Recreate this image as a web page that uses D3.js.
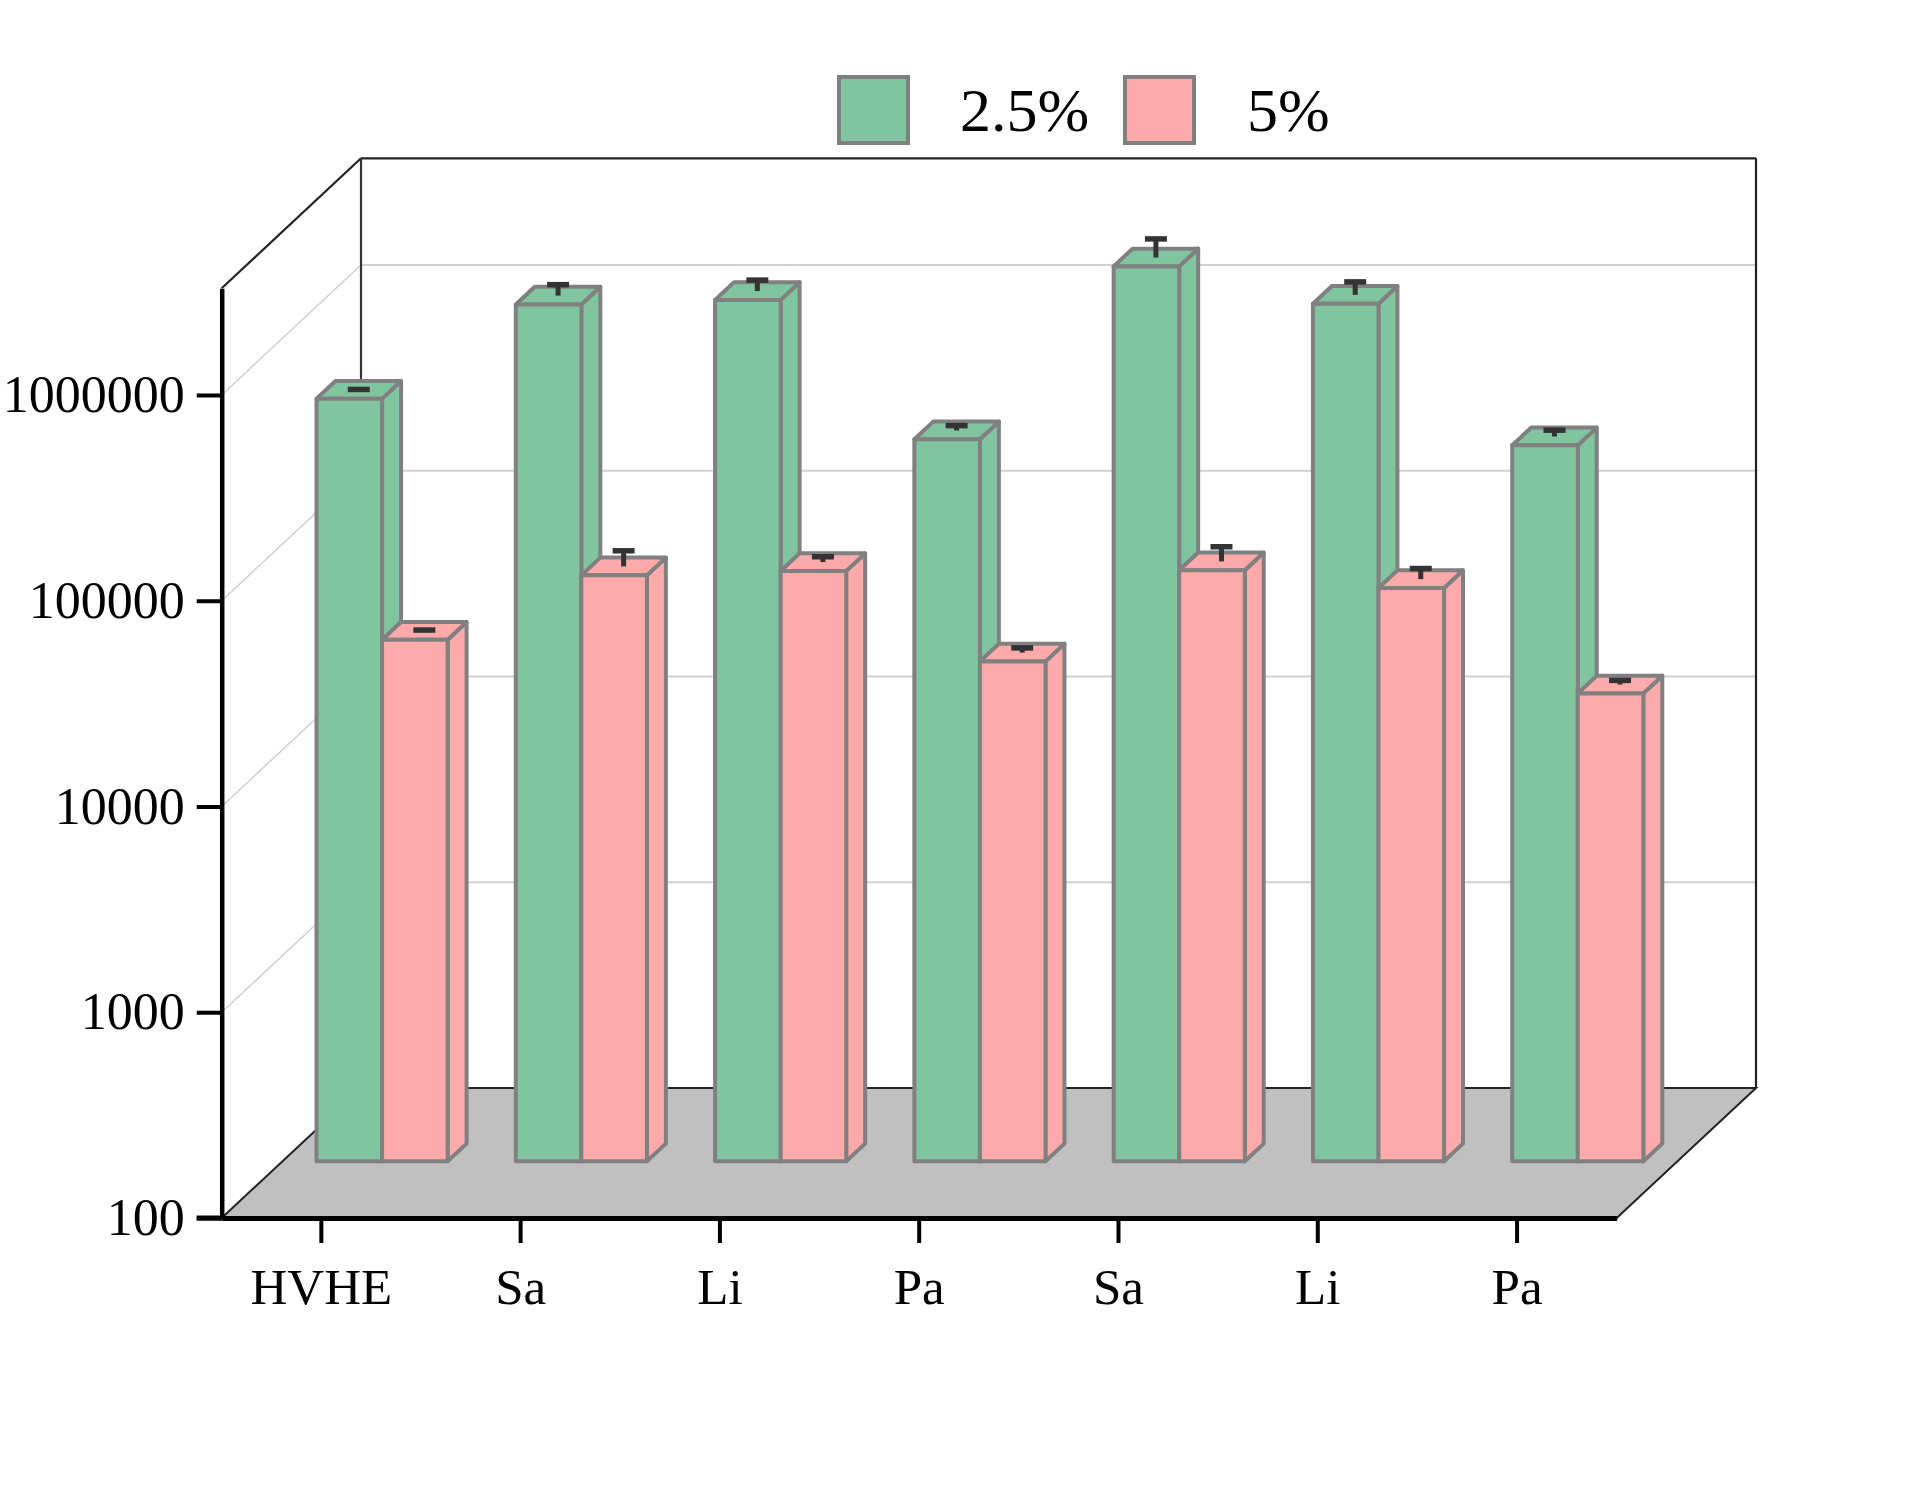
<!DOCTYPE html>
<html>
<head>
<meta charset="utf-8">
<script src="https://cdn.jsdelivr.net/npm/d3@7"></script>
<style>
  html, body { margin: 0; padding: 0; background: #ffffff; }
  svg { display: block; }
  text { font-family: "Liberation Serif", "Times New Roman", serif; fill: #000; }
</style>
</head>
<body>
<svg id="chart" width="1920" height="1494"></svg>
<script>
// ---- data ----
const categories = ["HVHE", "Sa", "Li", "Pa", "Sa", "Li", "Pa"];
const seriesNames = ["2.5%", "5%"];
const values25 = [509000, 1461000, 1537000, 323000, 2236000, 1473000, 302000];
const errors25 = [2000, 190000, 200000, 18000, 519000, 230000, 22000];
const values5 = [34300, 70500, 74000, 26900, 74600, 61200, 18800];
const errors5 = [300, 13500, 4600, 1440, 13300, 7700, 900];
const yTickValues = [100, 1000, 10000, 100000, 1000000];
const yDomain = [100, 3300000];
const seriesColors = ["#80C5A0", "#FFAAAA"];

// ---- layout ----
const svg = d3.select("#chart");
const plotLeft = 221.7, plotRight = 1616.7, plotBottom = 1218, plotTop = 288.3;
const DX = 139.3, DY = 130;       // depth offset of back wall
const zf = 0.436, dz = 0.136;     // bar front depth and bar depth (fractions)
const outline = "#808080";

const x = d3.scaleBand().domain(d3.range(categories.length)).range([plotLeft, plotRight]).padding(0);
const y = d3.scaleLog().domain(yDomain).range([plotBottom, plotTop]);
const barW = x.bandwidth() * 0.329;
const bdx = dz * DX, bdy = dz * DY;

// ---- back wall gridlines ----
const grid = svg.append("g");
yTickValues.slice(1).forEach(t => {
  const yy = y(t);
  grid.append("line").attr("x1", plotLeft + DX).attr("x2", plotRight + DX)
    .attr("y1", yy - DY).attr("y2", yy - DY)
    .attr("stroke", "#d0d0d0").attr("stroke-width", 2);
  grid.append("line").attr("x1", plotLeft).attr("x2", plotLeft + DX)
    .attr("y1", yy).attr("y2", yy - DY)
    .attr("stroke", "#d0d0d0").attr("stroke-width", 1.5);
});

// back wall frame
const frame = svg.append("g").attr("fill", "none").attr("stroke", "#222").attr("stroke-width", 2.2);
frame.append("line").attr("x1", plotLeft).attr("y1", plotTop).attr("x2", plotLeft + DX).attr("y2", plotTop - DY);
frame.append("line").attr("x1", plotLeft + DX).attr("y1", plotTop - DY).attr("x2", plotRight + DX).attr("y2", plotTop - DY);
frame.append("line").attr("x1", plotRight + DX).attr("y1", plotTop - DY).attr("x2", plotRight + DX).attr("y2", plotBottom - DY);
frame.append("line").attr("x1", plotLeft + DX).attr("y1", plotTop - DY).attr("x2", plotLeft + DX).attr("y2", plotBottom - DY)
  .attr("stroke", "#333");

// ---- floor ----
svg.append("path")
  .attr("d", `M${plotLeft},${plotBottom} L${plotRight},${plotBottom} L${plotRight + DX},${plotBottom - DY} L${plotLeft + DX},${plotBottom - DY} Z`)
  .attr("fill", "#c0c0c0").attr("stroke", "#222").attr("stroke-width", 2);

// ---- bars ----
const barsG = svg.append("g");
const series = [
  { vals: values25, errs: errors25, color: seriesColors[0], off: -1 },
  { vals: values5, errs: errors5, color: seriesColors[1], off: 0 }
];
categories.forEach((c, i) => {
  const cx = x(i) + x.bandwidth() / 2 + zf * DX;
  series.forEach(s => {
    const v = s.vals[i];
    const x0 = cx + s.off * barW;
    const yTop = y(v) - zf * DY;
    const yBot = y(yDomain[0]) - zf * DY;
    const g = barsG.append("g").attr("stroke", outline).attr("stroke-width", 4)
      .attr("stroke-linejoin", "round").attr("fill", s.color);
    // side face
    g.append("path").attr("d",
      `M${x0 + barW},${yTop} L${x0 + barW + bdx},${yTop - bdy} L${x0 + barW + bdx},${yBot - bdy} L${x0 + barW},${yBot} Z`);
    // top face
    g.append("path").attr("d",
      `M${x0},${yTop} L${x0 + barW},${yTop} L${x0 + barW + bdx},${yTop - bdy} L${x0 + bdx},${yTop - bdy} Z`);
    // front face
    g.append("rect").attr("x", x0).attr("y", yTop).attr("width", barW).attr("height", yBot - yTop);
    // error bar (on top face centre)
    const ex = x0 + barW / 2 + bdx / 2;
    const zc = (zf + dz / 2) * DY;
    const ym = y(v) - zc;
    const ye = y(v + s.errs[i]) - zc;
    const eg = g.append("g").attr("stroke", "#333333").attr("fill", "none");
    eg.append("line").attr("x1", ex).attr("x2", ex).attr("y1", ym).attr("y2", ye)
      .attr("stroke-width", 5);
    eg.append("line").attr("x1", ex - 11).attr("x2", ex + 11).attr("y1", ye).attr("y2", ye)
      .attr("stroke-width", 5.5);
  });
});

// ---- axes ----
const yAxis = d3.axisLeft(y).tickValues(yTickValues).tickFormat(d3.format("d"))
  .tickSize(25).tickSizeOuter(0).tickPadding(12);
const yg = svg.append("g").attr("transform", `translate(${plotLeft},0)`).call(yAxis);
yg.select(".domain").attr("stroke", "#000").attr("stroke-width", 4.5);
yg.selectAll(".tick line").attr("stroke", "#000").attr("stroke-width", 4);
yg.selectAll(".tick text").attr("font-size", 52).attr("fill", "#000")
  .style("font-family", '"Liberation Serif", "Times New Roman", serif');

const xAxis = d3.axisBottom(x).tickFormat(i => categories[i]).tickSize(25).tickSizeOuter(0).tickPadding(25);
const xg = svg.append("g").attr("transform", `translate(0,${plotBottom})`).call(xAxis);
xg.select(".domain").attr("stroke", "#000").attr("stroke-width", 5);
xg.selectAll(".tick line").attr("stroke", "#000").attr("stroke-width", 4);
xg.selectAll(".tick text").attr("font-size", 51).attr("fill", "#000")
  .style("font-family", '"Liberation Serif", "Times New Roman", serif');
svg.append("line").attr("x1", plotLeft - 25).attr("x2", plotLeft).attr("y1", plotBottom).attr("y2", plotBottom)
  .attr("stroke", "#000").attr("stroke-width", 5);

// ---- legend ----
const legend = svg.append("g");
const legendPos = [{ bx: 839, tx: 960 }, { bx: 1125, tx: 1247 }];
seriesNames.forEach((n, k) => {
  legend.append("rect").attr("x", legendPos[k].bx).attr("y", 77).attr("width", 69).attr("height", 66)
    .attr("fill", seriesColors[k]).attr("stroke", outline).attr("stroke-width", 4);
  legend.append("text").attr("x", legendPos[k].tx).attr("y", 131).attr("font-size", 62).text(n);
});
</script>
</body>
</html>
